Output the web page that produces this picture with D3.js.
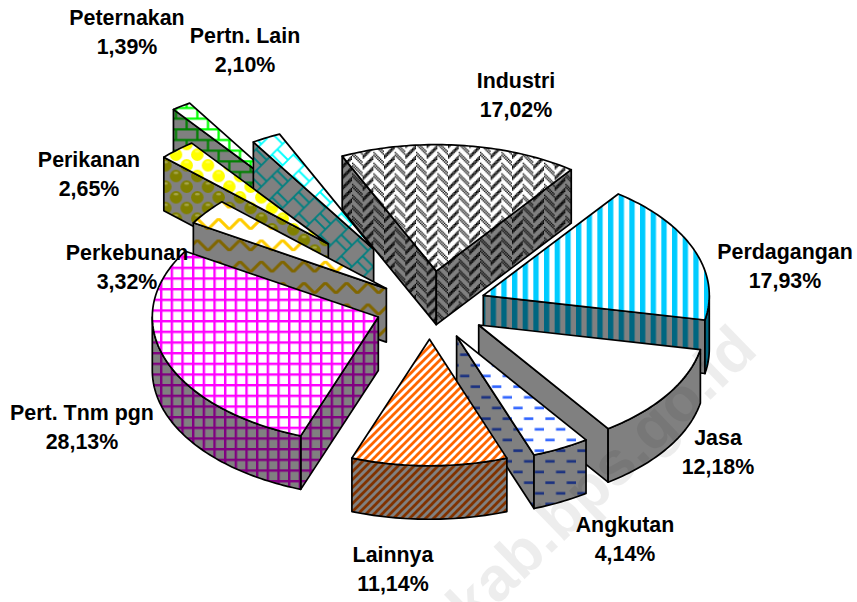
<!DOCTYPE html>
<html>
<head>
<meta charset="utf-8">
<script src="https://cdn.jsdelivr.net/npm/d3@7/dist/d3.min.js"></script>
<style>
html,body{margin:0;padding:0;background:#fff;}
svg{display:block;}
text{font-family:"Liberation Sans",Arial,sans-serif;font-weight:bold;}
</style>
</head>
<body>
<svg id="chart" width="857" height="602"></svg>
<script>
// ---- data ----
const categories = ["Industri","Perdagangan","Jasa","Angkutan","Lainnya","Pert. Tnm pgn","Perkebunan","Perikanan","Peternakan","Pertn. Lain"];
const shares = [17.02,17.93,12.18,4.14,11.14,28.13,3.32,2.65,1.39,2.10];
const shareLabels = ["17,02%","17,93%","12,18%","4,14%","11,14%","28,13%","3,32%","2,65%","1,39%","2,10%"];
const explosionPct = [28.5,25.5,26,26,25.5,24,24,67,93,52];

// ---- layout and style, separate from the data ----
const W = 857, H = 602;
const cx = 429.5, cy = 307, rx = 226, ry = 126.5, depth = 53.5;
const firstAngle = -24.6 * Math.PI / 180;
const paintOrder = [8,9,7,6,5,0,1,2,3,4];
const labelCentres = [[516,88],[785,259],[718,445],[625,532],[393,562],[82,420],[127,260],[89,167],[127,25],[245,43]];
const hues = ["#000000","#00CCFF",null,"#3366FF","#FF6600","#FF00FF","#FFCC00","#FFFF00","#00FF00","#00FFFF"];
const wallHues = ["#000000","#006680",null,"#1A3380","#803300","#800080","#806600","#808000","#008000","#008080"];
const wallGrey = "#808080";
const U = 4/3; // pattern unit

const svg = d3.select("#chart");
const defs = svg.append("defs");
defs.append("filter").attr("id","soft").attr("x","-5%").attr("y","-5%").attr("width","110%").attr("height","110%")
  .append("feGaussianBlur").attr("stdDeviation",0.3);

function bits(g, rows, c){
  rows.forEach((r,y)=>{ for(let x=0;x<r.length;x++) if(r[x]==="1")
    g.append("rect").attr("x",x).attr("y",y).attr("width",1.02).attr("height",1.02).attr("fill",c); });
}
function herring(){
  const rows=[];
  for(let y=0;y<16;y++){ let s="";
    for(let x=0;x<16;x++){
      const v = x<8 ? (y+x)%8 : (y+(15-x)+4)%8;
      s += v<4 ? "0" : ((x+y)%2===0 || v===5 ? "1":"0");
    }
    rows.push(s);
  }
  return rows;
}
const painters = [
  {size:16, draw:(g,c)=>bits(g,herring(),c)},
  {size:8, draw:(g,c)=>g.append("rect").attr("x",0).attr("width",4).attr("height",8).attr("fill",c)},
  null,
  {size:16, draw:(g,c)=>{
     g.append("rect").attr("x",1).attr("y",1).attr("width",7).attr("height",2).attr("fill",c);
     g.append("rect").attr("x",9).attr("y",9).attr("width",7).attr("height",2).attr("fill",c);}},
  {size:6, draw:(g,c)=>{
     g.append("path").attr("d","M-2,2L2,-2M-2,8L8,-2M4,8L8,4").attr("stroke",c).attr("stroke-width",2.1).attr("fill","none");}},
  {size:8, draw:(g,c)=>{
     g.append("rect").attr("width",8).attr("height",1.8).attr("fill",c);
     g.append("rect").attr("width",1.8).attr("height",8).attr("fill",c);}},
  {size:16, draw:(g,c)=>{
     g.append("path").attr("d","M-1,9L3,5Q4,4 5,5L11,11Q12,12 13,11L17,7").attr("stroke",c).attr("stroke-width",2.3).attr("fill","none");}},
  {size:16, draw:(g,c)=>{
     [[4,4],[12,12]].forEach(p=>{
       g.append("circle").attr("cx",p[0]).attr("cy",p[1]).attr("r",4.7).attr("fill",c);
       g.append("ellipse").attr("cx",p[0]).attr("cy",p[1]-2.4).attr("rx",1.8).attr("ry",0.9).attr("fill","#fff").attr("opacity",0.3);
     });
     [[-4,-4],[12,-4],[-4,12],[20,12],[12,20],[4,20],[20,4]].forEach(p=>{
       g.append("circle").attr("cx",p[0]).attr("cy",p[1]).attr("r",4.7).attr("fill",c);
     });}},
  {size:16, draw:(g,c)=>{
     g.append("path").attr("d","M0,1H16M0,9H16M4,1V9M12,9V16M12,0V1").attr("stroke",c).attr("stroke-width",1.7).attr("fill","none");}},
  {size:16, draw:(g,c)=>{
     g.append("path").attr("d","M-2,18L18,-2M-2,2L2,-2M14,18L18,14M0,0L8,8M12,4L20,12M-4,4L4,12").attr("stroke",c).attr("stroke-width",1.4).attr("fill","none");}}
];

function makePattern(id, i, bg, colour){
  const pt = painters[i];
  const p = defs.append("pattern").attr("id",id).attr("patternUnits","userSpaceOnUse")
    .attr("width",pt.size).attr("height",pt.size)
    .attr("patternTransform",`scale(${U})`);
  p.append("rect").attr("width",pt.size).attr("height",pt.size).attr("fill",bg);
  const g = p.append("g").attr("filter","url(#soft)");
  pt.draw(g,colour);
}
categories.forEach((c,i)=>{
  if(!painters[i]) return;
  makePattern("top"+i,i,"#ffffff",hues[i]);
  makePattern("wall"+i,i,wallGrey,wallHues[i]);
});

// scales mapping the unit pie onto the tilted ellipse
const xUnit = d3.scaleLinear().domain([-1,1]).range([cx-rx,cx+rx]);
const yUnit = d3.scaleLinear().domain([-1,1]).range([cy-ry,cy+ry]);
const pie = d3.pie().value(d=>d).sort(null).startAngle(firstAngle).endAngle(firstAngle+2*Math.PI);
const arcs = pie(shares);
const line = d3.line();

function sliceGeometry(a,i){
  const mid=(a.startAngle+a.endAngle)/2, e=explosionPct[i]/100;
  const ux=e*Math.sin(mid), uy=-e*Math.cos(mid);
  const at=(t,r)=>[xUnit(ux+r*Math.sin(t)), yUnit(uy-r*Math.cos(t))];
  const arcPts=(t0,t1)=>{ const n=Math.max(2,Math.ceil((t1-t0)/0.02)); return d3.range(n+1).map(k=>at(t0+(t1-t0)*k/n,1)); };
  return {apex:at(0,0),at,arcPts};
}
const down = pts => pts.map(p=>[p[0],p[1]+depth]);

const layer = svg.append("g").attr("stroke","#000").attr("stroke-width",1.7).attr("stroke-linejoin","round");
paintOrder.forEach(i=>{
  const a=arcs[i], g=sliceGeometry(a,i);
  const s=a.startAngle, e=a.endAngle;
  const topFill = painters[i] ? `url(#top${i})` : "#fff";
  const wallFill = painters[i] ? `url(#wall${i})` : wallGrey;
  const G = layer.append("g").attr("class","slice").attr("data-category",categories[i]);
  // radial walls facing the viewer
  if(Math.sin(s)<0){
    const q=[g.apex,g.at(s,1)];
    G.append("path").attr("d",line(q.concat(down(q).reverse()))+"Z").attr("fill",wallFill);
  }
  if(Math.sin(e)>0){
    const q=[g.apex,g.at(e,1)];
    G.append("path").attr("d",line(q.concat(down(q).reverse()))+"Z").attr("fill",wallFill);
  }
  // outer rim wall: the part of the arc on the near side of the ellipse
  const t0=Math.max(s,Math.PI/2), t1=Math.min(e,3*Math.PI/2);
  if(t1>t0){
    const q=g.arcPts(t0,t1);
    G.append("path").attr("d",line(q.concat(down(q).reverse()))+"Z").attr("fill",wallFill);
  }
  // top face
  G.append("path").attr("d",line([g.apex].concat(g.arcPts(s,e)))+"Z").attr("fill",topFill);
});

// labels
const labels = svg.append("g").attr("font-size",21.4).attr("fill","#000").attr("text-anchor","middle");
categories.forEach((c,i)=>{
  const p=labelCentres[i];
  labels.append("text").attr("x",p[0]).attr("y",p[1]).text(c);
  labels.append("text").attr("x",p[0]).attr("y",p[1]+28.5).text(shareLabels[i]);
});

// site watermark
svg.append("text").attr("transform","translate(472,630) rotate(-44)")
  .attr("font-size",62).attr("fill","rgba(0,0,0,0.07)").text("kab.bps.go.id");
</script>
</body>
</html>
